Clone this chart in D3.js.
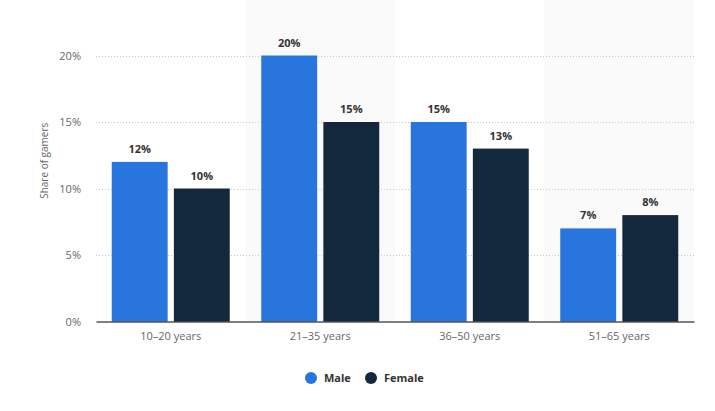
<!DOCTYPE html>
<html>
<head>
<meta charset="utf-8">
<script src="https://cdn.jsdelivr.net/npm/d3@7"></script>
<style>
  body { margin: 0; background: #fff; }
  svg { display: block; font-family: "Open Sans", "DejaVu Sans", sans-serif; }
</style>
</head>
<body>
<div id="chart"></div>
<script>
// chart data
const categories = ["10-20 years", "21-35 years", "36-50 years", "51-65 years"];
const seriesNames = ["Male", "Female"];
const maleValues = [12, 20, 15, 7];
const femaleValues = [10, 15, 13, 8];
const yTicks = [0, 5, 10, 15, 20];

const colors = { Male: "#2876dd", Female: "#13273d" };

const svgWidth = 715, svgHeight = 411;
const margin = { top: 0, left: 96, right: 21, bottom: 90 };
const chartWidth = svgWidth - margin.left - margin.right;
const chartHeight = 321.5 - margin.top;

const svg = d3.select("#chart").append("svg")
    .attr("width", svgWidth)
    .attr("height", svgHeight);

const chart = svg.append("g")
    .attr("transform", `translate(${margin.left},${margin.top})`);

const x0 = d3.scaleBand()
    .domain(categories)
    .range([0, chartWidth])
    .paddingInner(0)
    .paddingOuter(0);

const x1 = d3.scaleBand()
    .domain(seriesNames)
    .range([15.75, x0.bandwidth() - 15.75])
    .paddingInner(0.1);

const y = d3.scaleLinear()
    .domain([0, 20])
    .range([chartHeight, chartHeight - 266]);

// alternating background bands
chart.selectAll("rect.band")
    .data(categories.filter((d, i) => i % 2 === 1))
    .enter().append("rect")
    .attr("class", "band")
    .attr("x", d => x0(d))
    .attr("y", 0)
    .attr("width", x0.bandwidth())
    .attr("height", chartHeight)
    .attr("fill", "#fafafa");

// gridlines
chart.selectAll("line.grid")
    .data(yTicks.filter(d => d > 0))
    .enter().append("line")
    .attr("class", "grid")
    .attr("x1", 0)
    .attr("x2", chartWidth)
    .attr("y1", d => Math.round(y(d)) + 0.5)
    .attr("y2", d => Math.round(y(d)) + 0.5)
    .attr("stroke", "#c8c8c8")
    .attr("stroke-width", 1)
    .attr("stroke-dasharray", "1,2");

// y axis labels
const yAxis = d3.axisLeft(y)
    .tickValues(yTicks)
    .tickFormat(d => d + "%")
    .tickSize(0)
    .tickPadding(15);

chart.append("g")
    .call(yAxis)
    .call(g => g.select(".domain").remove())
    .selectAll("text")
    .attr("fill", "#666")
    .attr("font-size", "11px")
    .attr("font-family", "'Open Sans', sans-serif");

// y axis title
svg.append("text")
    .attr("transform", `translate(48,${chartHeight / 2}) rotate(-90)`)
    .attr("text-anchor", "middle")
    .attr("fill", "#666")
    .attr("font-size", "10px")
    .text("Share of gamers");

// bars
const rows = categories.map((c, i) => ({
    category: c,
    values: [
        { key: "Male", value: maleValues[i] },
        { key: "Female", value: femaleValues[i] }
    ]
}));

const groups = chart.selectAll("g.group")
    .data(rows)
    .enter().append("g")
    .attr("class", "group")
    .attr("transform", d => `translate(${x0(d.category)},0)`);

groups.selectAll("rect.bar")
    .data(d => d.values)
    .enter().append("rect")
    .attr("class", "bar")
    .attr("x", d => x1(d.key))
    .attr("y", d => y(d.value))
    .attr("width", x1.bandwidth())
    .attr("height", d => y(0) - y(d.value))
    .attr("fill", d => colors[d.key]);

groups.selectAll("text.value")
    .data(d => d.values)
    .enter().append("text")
    .attr("class", "value")
    .attr("x", d => x1(d.key) + x1.bandwidth() / 2)
    .attr("y", d => y(d.value) - 9)
    .attr("text-anchor", "middle")
    .attr("fill", "#333")
    .attr("font-size", "11px")
    .attr("font-weight", "bold")
    .text(d => d.value + "%");

// x axis
const xAxis = d3.axisBottom(x0).tickSize(0).tickPadding(11);
const xg = chart.append("g")
    .attr("transform", `translate(0,${chartHeight})`)
    .call(xAxis);
xg.select(".domain").attr("stroke", "#000").attr("stroke-width", 1.2);
xg.selectAll("text")
    .attr("fill", "#666")
    .attr("font-size", "11px")
    .attr("font-family", "'Open Sans', sans-serif")
    .text(d => d.replace("-", "\u2013"));

// legend
const legendItems = [
    { key: "Male", cx: 311, tx: 324 },
    { key: "Female", cx: 371, tx: 384 }
];
const legend = svg.append("g");
legend.selectAll("circle")
    .data(legendItems)
    .enter().append("circle")
    .attr("cx", d => d.cx)
    .attr("cy", 378)
    .attr("r", 6)
    .attr("fill", d => colors[d.key]);
legend.selectAll("text")
    .data(legendItems)
    .enter().append("text")
    .attr("x", d => d.tx)
    .attr("y", 382)
    .attr("fill", "#333")
    .attr("font-size", "11px")
    .attr("font-weight", "bold")
    .text(d => d.key);
</script>
</body>
</html>
